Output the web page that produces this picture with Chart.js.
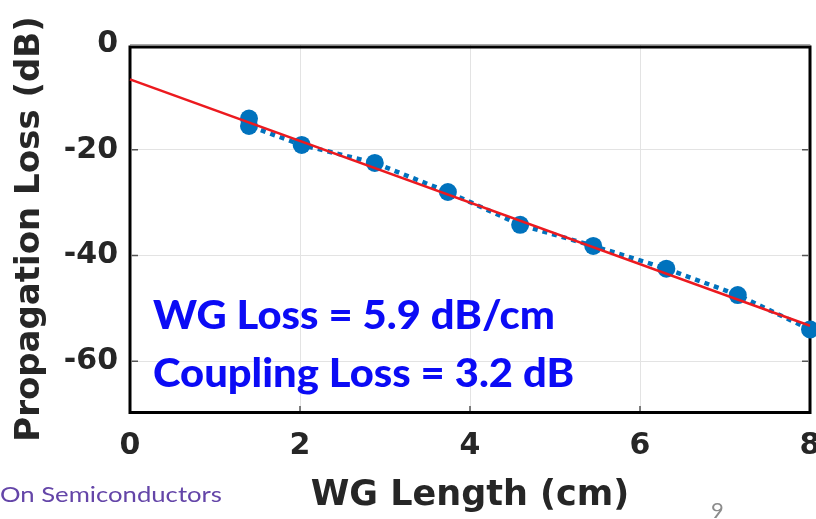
<!DOCTYPE html>
<html>
<head>
<meta charset="utf-8">
<script src="https://cdn.jsdelivr.net/npm/chart.js@4.4.1/dist/chart.umd.min.js"></script>
<style>
  html, body { margin: 0; padding: 0; background: #fff; }
  #wrap { width: 816px; height: 519px; position: relative; }
</style>
</head>
<body>
<div id="wrap"><canvas id="lossChart" width="816" height="519"></canvas></div>
<script>
// measured waveguide lengths (cm) and propagation loss (dB)
const lengths = [1.4, 1.4, 2.02, 2.88, 3.74, 4.59, 5.45, 6.31, 7.15, 8.0];
const losses = [-14.1, -15.5, -19.1, -22.5, -28.0, -34.2, -38.2, -42.5, -47.5, -54.0];

// linear fit end points
const fitX = [0, 8];
const fitY = [-6.7, -53.3];

const xTicks = [0, 2, 4, 6, 8];
const yTicks = [0, -20, -40, -60];

const notes = ['WG Loss = 5.9 dB/cm', 'Coupling Loss = 3.2 dB'];

const AXIS_FONT = '"DejaVu Sans", sans-serif';
const DOT_BLUE = '#0072bd';

const frame = {
    id: 'frame',
    beforeDatasetsDraw(chart) {
        const { ctx, chartArea: a, scales } = chart;
        ctx.save();
        // small inside tick marks
        ctx.strokeStyle = '#555';
        ctx.lineWidth = 1.5;
        ctx.beginPath();
        xTicks.slice(1, -1).forEach(v => {
            const px = scales.x.getPixelForValue(v);
            ctx.moveTo(px, a.bottom - 2); ctx.lineTo(px, a.bottom - 8);
        });
        yTicks.slice(1).forEach(v => {
            const py = scales.y.getPixelForValue(v);
            ctx.moveTo(a.left + 2, py); ctx.lineTo(a.left + 8, py);
            ctx.moveTo(a.right - 2, py); ctx.lineTo(a.right - 8, py);
        });
        ctx.stroke();
        // black box
        ctx.strokeStyle = '#000';
        ctx.lineWidth = 3;
        ctx.strokeRect(a.left, a.top + 3, a.right - a.left, a.bottom - a.top - 4.5);
        ctx.restore();
    },
    afterDraw(chart) {
        const { ctx } = chart;
        ctx.save();
        // blue annotation, stretched to the slide's proportions
        ctx.fillStyle = '#0b0bf5';
        ctx.font = '900 40px Lato, sans-serif';
        ctx.textBaseline = 'alphabetic';
        const sx = 402 / ctx.measureText(notes[0]).width;
        ctx.translate(153, 0);
        ctx.scale(sx, 1);
        ctx.fillText(notes[0], 0, 329);
        ctx.fillText(notes[1], 0, 387);
        ctx.restore();

        ctx.save();
        ctx.fillStyle = '#6445a8';
        ctx.font = '22px Lato, sans-serif';
        const sx2 = 222 / ctx.measureText('On Semiconductors').width;
        ctx.scale(sx2, 1);
        ctx.fillText('On Semiconductors', 0, 502);
        ctx.restore();

        ctx.save();
        ctx.fillStyle = '#8c8c8c';
        ctx.font = '22px Lato, sans-serif';
        ctx.fillText('9', 711, 518);
        ctx.restore();
    }
};

new Chart(document.getElementById('lossChart'), {
    type: 'scatter',
    data: {
        datasets: [
            {
                label: 'Fit',
                data: fitX.map((x, i) => ({ x, y: fitY[i] })),
                showLine: true,
                borderColor: '#ec1a1f',
                borderWidth: 2.5,
                pointRadius: 0,
                clip: false,
                order: 0
            },
            {
                label: 'Measured',
                data: lengths.map((x, i) => ({ x, y: losses[i] })),
                showLine: true,
                borderColor: DOT_BLUE,
                borderWidth: 4.5,
                borderDash: [5, 5],
                pointRadius: 9,
                pointBackgroundColor: DOT_BLUE,
                pointBorderWidth: 0,
                clip: false,
                order: 1
            }
        ]
    },
    options: {
        responsive: false,
        animation: false,
        devicePixelRatio: 1,
        layout: { autoPadding: false, padding: { top: 44, right: 6, left: 0, bottom: 0 } },
        plugins: { legend: { display: false }, tooltip: { enabled: false } },
        scales: {
            x: {
                type: 'linear',
                min: 0,
                max: 8,
                afterBuildTicks: s => { s.ticks = xTicks.map(v => ({ value: v })); },
                afterFit: s => {
                    s.height = 105;
                    s.paddingLeft = 0;
                    s.paddingRight = 0;
                },
                border: { display: false },
                grid: { color: '#e3e3e3', lineWidth: 1, drawTicks: false },
                ticks: {
                    padding: 14,
                    color: '#262626',
                    font: { family: AXIS_FONT, weight: 'bold', size: 30 }
                },
                title: {
                    display: true,
                    text: 'WG Length (cm)',
                    color: '#262626',
                    font: { family: AXIS_FONT, weight: 'bold', size: 35 },
                    padding: { top: 0, bottom: 2 }
                }
            },
            y: {
                type: 'linear',
                min: -70,
                max: 0,
                afterBuildTicks: s => { s.ticks = yTicks.map(v => ({ value: v })); },
                afterFit: s => {
                    s.width = 130;
                    s.paddingTop = 0;
                    s.paddingBottom = 0;
                },
                border: { display: false },
                grid: {
                    color: ctx => ctx.tick && ctx.tick.value === 0 ? '#a8a8a8' : '#e3e3e3',
                    lineWidth: 1,
                    drawTicks: false
                },
                ticks: {
                    padding: 12,
                    color: '#262626',
                    font: { family: AXIS_FONT, weight: 'bold', size: 30 }
                },
                title: {
                    display: true,
                    text: 'Propagation Loss (dB)',
                    color: '#262626',
                    font: { family: AXIS_FONT, weight: 'bold', size: 34 },
                    padding: { top: 10, bottom: 0 }
                }
            }
        }
    },
    plugins: [frame]
});
</script>
</body>
</html>
